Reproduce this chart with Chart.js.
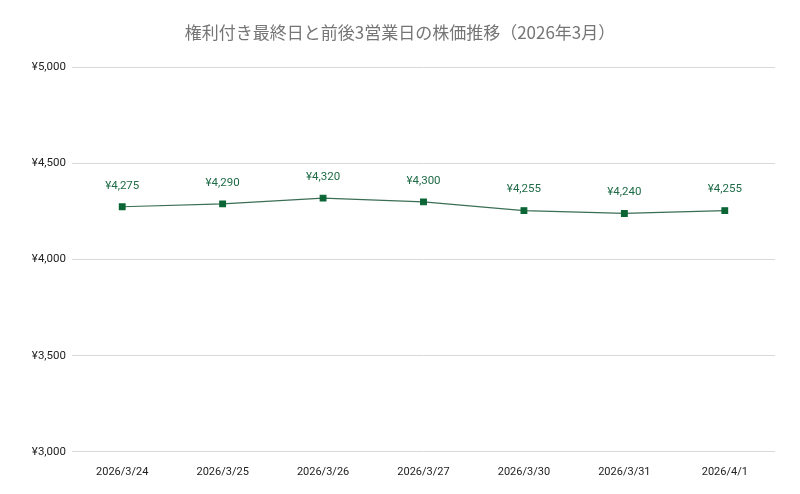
<!DOCTYPE html>
<html>
<head>
<meta charset="utf-8">
<script src="https://cdn.jsdelivr.net/npm/chart.js@4"></script>
<style>
  html, body { margin: 0; padding: 0; background: #fff; }
</style>
</head>
<body>
<canvas id="myChart" width="800" height="494"></canvas>
<script>
const dates = ['2026/3/24', '2026/3/25', '2026/3/26', '2026/3/27', '2026/3/30', '2026/3/31', '2026/4/1'];
const prices = [4275, 4290, 4320, 4300, 4255, 4240, 4255];
const yTicks = [3000, 3500, 4000, 4500, 5000];

const yen = v => '¥' + v.toLocaleString('en-US');

// small plugin for the value labels above each point
const pointLabels = {
    id: 'pointLabels',
    afterDatasetsDraw(chart) {
        const ctx = chart.ctx;
        const meta = chart.getDatasetMeta(0);
        ctx.save();
        ctx.font = '11.5px Roboto, "Noto Sans CJK JP", sans-serif';
        ctx.fillStyle = '#1e6b45';
        ctx.textAlign = 'center';
        ctx.textBaseline = 'middle';
        meta.data.forEach((pt, i) => {
            ctx.fillText(yen(prices[i]), pt.x, pt.y - 21);
        });
        ctx.restore();
    }
};

window.onload = function() {
    let ctx = document.getElementById('myChart');
    Chart.defaults.font.family = 'Roboto, "Noto Sans CJK JP", sans-serif';
    Chart.defaults.plugins.legend.display = false;

    new Chart(ctx, {
        type: 'line',
        data: {
            labels: dates,
            datasets: [{
                label: '株価',
                data: prices,
                borderColor: '#3b6e55',
                borderWidth: 1.2,
                backgroundColor: '#0b6534',
                pointStyle: 'rect',
                pointRadius: 4,
                pointBackgroundColor: '#0b6534',
                pointBorderColor: '#0b6534',
                tension: 0
            }]
        },
        options: {
            responsive: false,
            animation: false,
            layout: { padding: { top: 0, right: 25, bottom: 9, left: 25 } },
            plugins: {
                title: {
                    display: true,
                    text: '権利付き最終日と前後3営業日の株価推移（2026年3月）',
                    color: '#757575',
                    font: { size: 17, weight: 'normal', family: '"Noto Sans CJK JP", sans-serif' },
                    padding: { top: 22, bottom: 25 }
                },
                tooltip: { enabled: false }
            },
            scales: {
                x: {
                    offset: true,
                    grid: { display: false },
                    border: { display: false },
                    ticks: { color: '#222', font: { size: 11 }, maxRotation: 0, padding: 6 }
                },
                y: {
                    min: 3000,
                    max: 5000,
                    afterBuildTicks: axis => { axis.ticks = yTicks.map(v => ({ value: v })); },
                    afterFit: axis => { axis.width = 47; },
                    grid: { color: '#d9d9d9', drawTicks: false },
                    border: { display: false },
                    ticks: { color: '#222', font: { size: 11.5 }, padding: 6, callback: v => yen(v) }
                }
            }
        },
        plugins: [pointLabels]
    });
};
</script>
</body>
</html>
